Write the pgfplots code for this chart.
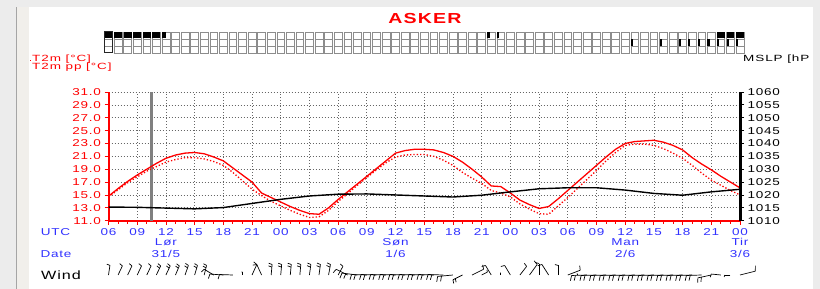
\documentclass[border=0pt]{standalone}
\usepackage{fontspec}
\setmainfont{Liberation Sans}
\newfontfamily\lab[FakeStretch=1.35,LetterSpace=8]{Liberation Sans}
\newfontfamily\labw[FakeStretch=1.5,LetterSpace=10]{Liberation Sans}
\usepackage{pgfplots}
\usepackage{pgfplotstable}
\pgfplotsset{compat=1.18}
\definecolor{mred}{RGB}{255,0,0}
\definecolor{mblue}{RGB}{50,50,255}
\definecolor{wingray}{RGB}{236,236,236}
\definecolor{nowgray}{RGB}{128,128,128}
\definecolor{strip}{RGB}{241,239,235}
\definecolor{stripline}{RGB}{165,165,165}
\newcommand\ticf{\lab\fontsize{10}{10}\selectfont}

\pgfdeclareplotmark{cloudbox}{%
  \pgfpathrectangle{\pgfpoint{-3.9pt}{-10.5pt}}{\pgfpoint{7.8pt}{21pt}}%
  \pgfusepathqstroke
  \pgfsetstrokecolor{black!45}%
  \pgfsetlinewidth{0.6pt}%
  \pgfpathmoveto{\pgfpoint{-3.9pt}{3.5pt}}\pgfpathlineto{\pgfpoint{3.9pt}{3.5pt}}%
  \pgfpathmoveto{\pgfpoint{-3.9pt}{-3.5pt}}\pgfpathlineto{\pgfpoint{3.9pt}{-3.5pt}}%
  \pgfusepathqstroke}
\pgfdeclareplotmark{hifull}{%
  \pgfpathrectangle{\pgfpoint{-3.9pt}{4pt}}{\pgfpoint{7.8pt}{6.5pt}}\pgfusepathqfill}
\pgfdeclareplotmark{hihalf}{%
  \pgfpathrectangle{\pgfpoint{-3.9pt}{4pt}}{\pgfpoint{3.9pt}{6.5pt}}\pgfusepathqfill}
\pgfdeclareplotmark{hithin}{%
  \pgfpathrectangle{\pgfpoint{-3.9pt}{4pt}}{\pgfpoint{2.2pt}{6.5pt}}\pgfusepathqfill}
\pgfdeclareplotmark{midthin}{%
  \pgfpathrectangle{\pgfpoint{-3.9pt}{-3.5pt}}{\pgfpoint{2.2pt}{7pt}}\pgfusepathqfill}

% hour since 06 UTC 31/5, T2m, T2m pp
\pgfplotstableread{
t T Tpp
0 14.8 14.7
1 16.0 15.8
2 17.1 16.9
3 18.1 17.8
4 19.0 18.7
5 19.9 19.4
6 20.7 20.1
7 21.2 20.5
8 21.5 20.8
9 21.6 20.8
10 21.4 20.6
11 20.9 20.2
12 20.3 19.6
13 19.2 18.5
14 18.1 17.2
15 17.0 15.9
16 15.3 14.9
17 14.6 14.0
18 13.9 13.3
19 13.2 12.6
20 12.6 12.0
21 12.1 11.5
22 12.0 11.6
23 13.0 12.6
24 14.3 14.0
25 15.5 15.2
26 16.7 16.5
27 17.9 17.7
28 19.1 18.9
29 20.3 20.0
30 21.5 20.9
31 21.9 21.2
32 22.1 21.3
33 22.1 21.3
34 22.0 21.0
35 21.6 20.4
36 21.0 19.6
37 20.1 18.5
38 19.0 17.6
39 17.8 16.8
40 16.4 15.7
41 16.3 15.3
42 15.3 14.7
43 14.2 13.6
44 13.5 12.8
45 12.9 12.1
46 13.2 12.0
47 14.4 13.3
48 15.7 14.6
49 17.0 16.0
50 18.3 17.4
51 19.6 18.8
52 20.9 20.3
53 22.1 21.6
54 23.0 22.7
55 23.3 22.9
56 23.4 22.9
57 23.5 22.7
58 23.2 22.2
59 22.7 21.5
60 22.0 20.7
61 20.8 19.6
62 19.8 18.4
63 18.9 17.3
64 17.9 16.5
65 17.0 15.7
66 16.1 15.0
}\temps

\pgfplotstableread{
t p
0 1015.3
3 1015.2
6 1014.9
9 1014.6
12 1015.1
15 1016.7
18 1018.3
21 1019.6
24 1020.3
27 1020.4
30 1020.0
33 1019.6
36 1019.2
39 1019.9
42 1021.2
45 1022.4
48 1022.8
51 1022.8
54 1021.9
57 1020.6
60 1019.9
63 1021.2
66 1022.2
}\mslp

\pgfplotstableread{
x y u v n
0 0 0.15 1.0 1
1 0 0.45 0.95 1
2 0 0.45 0.95 1
3 0 0.45 0.95 1
4 0 0.45 0.95 1
5 0 0.45 0.95 2
6 0 0.45 0.95 2
7 0 0.40 0.95 2
8 0 0.35 1.0 2
9 0 0.30 1.0 2
10 0 0.25 1.0 2
11 0 -1.0 0.6 1
12 0 -1.4 0.1 1
13 0 -1.4 0.05 1
14 0 0.0 0.3 1
15 0 0.5 1.1 1
16 0 -0.5 1.1 1
17 0 0.1 1.1 2
18 0 0.1 1.1 2
19 0 0.1 1.1 2
20 0 0.1 1.1 2
21 0 0.15 1.1 2
22 0 0.15 1.1 2
23 0 0.2 1.1 2
24 0 0.5 0.9 1
25 0 -1.2 0.6 1
26 0 -1.6 0.2 2
27 0 -1.6 0.05 2
28 0 -1.6 0.05 2
29 0 -1.6 0.05 2
30 0 -1.6 0.05 2
31 0 -1.6 0.05 2
32 0 -1.6 0.05 2
33 0 -1.6 0.05 2
34 0 -1.6 0.05 2
35 0 -1.6 0.05 2
36 0 -1.6 -0.15 2
37 0 -1.0 -0.5 2
38 0 1.2 0.6 1
39 0 0.6 0.3 1
40 0 -0.6 1.0 1
41 0 0.0 0.2 1
42 0 -0.6 1.0 1
43 0 0.7 0.9 1
44 0 0.8 1.1 1
45 0 0.0 1.2 1
46 0 -0.7 1.1 1
47 0 0.0 1.0 1
48 0 1.3 0.5 1
49 0 0.0 0.15 1
50 0 -1.6 -0.05 2
51 0 -1.6 -0.05 2
52 0 -1.6 -0.05 2
53 0 -1.6 -0.05 2
54 0 -1.6 -0.05 2
55 0 -1.6 -0.05 2
56 0 -1.6 -0.05 2
57 0 -1.6 -0.05 2
58 0 -1.6 -0.05 2
59 0 -1.6 -0.05 2
60 0 -1.6 -0.05 2
61 0 -1.6 -0.05 2
62 0 -1.6 -0.05 2
63 0 -1.4 -0.3 2
64 0 -1.0 0.1 1
65 0 -0.6 0.0 1
66 0 1.6 0.4 1
}\windtab

\begin{document}
\begin{tikzpicture}
\useasboundingbox (0,0) rectangle (820pt,289pt);
% window chrome
\fill[wingray] (0,0) rectangle (820pt,289pt);
\fill[white] (29pt,0) rectangle (813pt,282pt);
\fill[strip] (17pt,0) rectangle (29pt,282pt);
\draw[stripline, line width=1pt] (16.5pt,0) -- (16.5pt,282pt);

% temperature axis
\begin{axis}[
  at={(108.5pt,68.3pt)}, anchor=south west, scale only axis,
  width=631.5pt, height=128.7pt,
  xmin=0, xmax=66, ymin=11, ymax=31,
  axis x line*=bottom, axis y line*=left,
  x axis line style={mred, line width=2pt},
  y axis line style={mred, line width=2pt},
  xtick={0,3,...,66},
  xticklabels={06,09,12,15,18,21,00,03,06,09,12,15,18,21,00,03,06,09,12,15,18,21,00},
  minor x tick num=2,
  ytick={11,13,...,31},
  yticklabels={11.0,13.0,15.0,17.0,19.0,21.0,23.0,25.0,27.0,29.0,31.0},
  tick align=outside,
  major tick length=4pt, minor tick length=3pt,
  tick style={mred, line width=0.8pt},
  xticklabel style={font=\ticf, text=mblue},
  yticklabel style={font=\ticf, text=mred},
  grid=major,
  major grid style={black!60, dash pattern=on 1pt off 2pt, line width=0.7pt},
  clip=false,
]
\addplot[nowgray, line width=2.5pt] coordinates {(4.5,11) (4.5,31)};
\addplot[mred, line width=1.3pt, dotted] table[x=t, y=Tpp] {\temps};
\addplot[mred, line width=1.3pt] table[x=t, y=T] {\temps};
\node[font=\ticf, text=mblue] at (axis cs:6,11) [yshift=-21.3pt] {Lør};
\node[font=\ticf, text=mblue] at (axis cs:30,11) [yshift=-21.3pt] {Søn};
\node[font=\ticf, text=mblue] at (axis cs:54,11) [yshift=-21.3pt] {Man};
\node[font=\ticf, text=mblue] at (axis cs:66,11) [yshift=-21.3pt] {Tir};
\node[font=\ticf, text=mblue] at (axis cs:6,11) [yshift=-33.3pt] {31/5};
\node[font=\ticf, text=mblue] at (axis cs:30,11) [yshift=-33.3pt] {1/6};
\node[font=\ticf, text=mblue] at (axis cs:54,11) [yshift=-33.3pt] {2/6};
\node[font=\ticf, text=mblue] at (axis cs:66,11) [yshift=-33.3pt] {3/6};
\end{axis}

% pressure axis
\begin{axis}[
  at={(108.5pt,68.3pt)}, anchor=south west, scale only axis,
  width=631.5pt, height=128.7pt,
  xmin=0, xmax=66, ymin=1010, ymax=1060,
  axis x line=none, axis y line*=right,
  y axis line style={black, line width=3pt},
  ytick={1010,1015,...,1060},
  yticklabels={1010,1015,1020,1025,1030,1035,1040,1045,1050,1055,1060},
  tick align=outside, major tick length=4pt,
  tick style={black, line width=0.8pt},
  yticklabel style={font=\ticf, text=black},
]
\addplot[black, line width=1.4pt] table[x=t, y=p] {\mslp};
\end{axis}

% cloud cover boxes
\begin{axis}[
  at={(108.5pt,236pt)}, anchor=south west, scale only axis,
  width=631.5pt, height=21pt,
  xmin=0, xmax=66, ymin=0, ymax=1,
  hide axis, clip=false,
]
\addplot[only marks, black!85, line width=1pt, mark=cloudbox] coordinates {
(0,0.5) (1,0.5) (2,0.5) (3,0.5) (4,0.5) (5,0.5) (6,0.5) (7,0.5) (8,0.5) (9,0.5)
(10,0.5) (11,0.5) (12,0.5) (13,0.5) (14,0.5) (15,0.5) (16,0.5) (17,0.5) (18,0.5) (19,0.5)
(20,0.5) (21,0.5) (22,0.5) (23,0.5) (24,0.5) (25,0.5) (26,0.5) (27,0.5) (28,0.5) (29,0.5)
(30,0.5) (31,0.5) (32,0.5) (33,0.5) (34,0.5) (35,0.5) (36,0.5) (37,0.5) (38,0.5) (39,0.5)
(40,0.5) (41,0.5) (42,0.5) (43,0.5) (44,0.5) (45,0.5) (46,0.5) (47,0.5) (48,0.5) (49,0.5)
(50,0.5) (51,0.5) (52,0.5) (53,0.5) (54,0.5) (55,0.5) (56,0.5) (57,0.5) (58,0.5) (59,0.5)
(60,0.5) (61,0.5) (62,0.5) (63,0.5) (64,0.5) (65,0.5) (66,0.5)};
\addplot[only marks, black, fill=black, mark=hifull] coordinates {
(0,0.5) (1,0.5) (2,0.5) (3,0.5) (4,0.5) (5,0.5) (64,0.5) (65,0.5) (66,0.5)};
\addplot[only marks, black, fill=black, mark=hihalf] coordinates {(6,0.5)};
\addplot[only marks, black, fill=black, mark=hithin] coordinates {(40,0.5) (41,0.5)};
\addplot[only marks, black, fill=black, mark=midthin] coordinates {
(55,0.5) (58,0.5) (60,0.5) (61,0.5) (62,0.5) (63,0.5) (64,0.5) (65,0.5) (66,0.5)};
\end{axis}

% wind barbs
\begin{axis}[
  at={(108.5pt,4.43pt)}, anchor=south west, scale only axis,
  width=631.5pt, height=23.92pt,
  xmin=0, xmax=66, ymin=-1, ymax=1.5,
  hide axis, clip=false,
]
\addplot[black, line width=0.7pt, quiver={u=\thisrow{u}, v=\thisrow{v}}]
  table[x=x, y=y] {\windtab};
\addplot[black, line width=0.7pt,
  quiver={u=0.09*\thisrow{u}-0.34*\thisrow{v}, v=0.34*\thisrow{u}+0.09*\thisrow{v}}]
  table[x expr=\thisrow{x}+\thisrow{u}, y expr=\thisrow{v}] {\windtab};
\addplot[black, line width=0.7pt,
  quiver={u=(\thisrow{n}-1)*(0.09*\thisrow{u}-0.34*\thisrow{v}), v=(\thisrow{n}-1)*(0.34*\thisrow{u}+0.09*\thisrow{v})}]
  table[x expr=\thisrow{x}+0.75*\thisrow{u}, y expr=0.75*\thisrow{v}] {\windtab};
\end{axis}

% texts
\node[font=\lab\bfseries\fontsize{14.5}{14.5}\selectfont, text=mred] at (425pt,270pt) {ASKER};
\fill[mred] (29.5pt,227.5pt) rectangle (31.2pt,229pt);
\node[font=\labw\fontsize{9}{9}\selectfont, text=mred, anchor=west, inner sep=0pt] at (32pt,230pt) {T2m [°C]};
\node[font=\labw\fontsize{9}{9}\selectfont, text=mred, anchor=west, inner sep=0pt] at (32pt,221.5pt) {T2m pp [°C]};
\node[font=\labw\fontsize{9}{9}\selectfont, text=black, anchor=west, inner sep=0pt] at (743pt,230pt) {MSLP [hP};
\node[font=\ticf, text=mblue] at (55.5pt,57pt) {UTC};
\node[font=\ticf, text=mblue] at (56pt,35pt) {Date};
\node[font=\lab\fontsize{12}{12}\selectfont, text=black] at (61pt,14pt) {Wind};

% window border
\fill[wingray] (813pt,0) rectangle (820pt,289pt);
\fill[wingray] (0,282pt) rectangle (820pt,289pt);
\end{tikzpicture}
\end{document}
